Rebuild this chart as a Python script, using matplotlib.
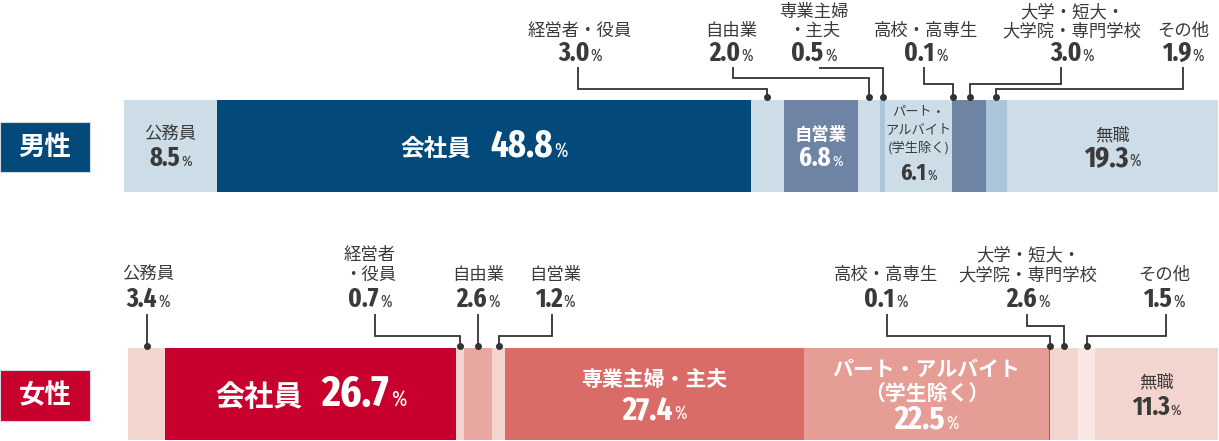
import matplotlib
matplotlib.use('Agg')
import matplotlib.pyplot as plt
from matplotlib import font_manager as fm, transforms
from matplotlib.offsetbox import TextArea, HPacker, AnnotationBbox
from matplotlib.patches import Rectangle
import os

# ---------------- data ----------------
group_labels = ['男性', '女性']

categories_male = ['公務員', '会社員', '経営者・役員', '自営業', '自由業', '専業主婦・主夫',
                   'パート・アルバイト（学生除く）', '高校・高専生', '大学・短大・大学院・専門学校',
                   'その他', '無職']
values_male = [8.5, 48.8, 3.0, 6.8, 2.0, 0.5, 6.1, 0.1, 3.0, 1.9, 19.3]

categories_female = ['公務員', '会社員', '経営者・役員', '自由業', '自営業', '専業主婦・主夫',
                     'パート・アルバイト（学生除く）', '高校・高専生', '大学・短大・大学院・専門学校',
                     'その他', '無職']
values_female = [3.4, 26.7, 0.7, 2.6, 1.2, 27.4, 22.5, 0.1, 2.6, 1.5, 11.3]

# ---------------- styles ----------------
M_LIGHT, M_NAVY, M_MID, M_PALE = '#cddde8', '#034a7b', '#6f83a5', '#abc6d9'
colors_male = [M_LIGHT, M_NAVY, M_LIGHT, M_MID, M_LIGHT, M_PALE, M_LIGHT, M_MID, M_MID, M_PALE, M_LIGHT]
F_LIGHT, F_RED, F_MID, F_SALMON, F_PART, F_LINE, F_PALE = ('#f3d5cf', '#c8002d', '#e8a8a0', '#da6c67',
                                                         '#e59d96', '#d94a4a', '#f9e7e4')
colors_female = [F_LIGHT, F_RED, F_LIGHT, F_MID, F_LIGHT, F_SALMON, F_PART, F_LINE, F_LIGHT, F_PALE, F_LIGHT]
DARK = '#3a3a3a'
WHITE = '#ffffff'

CJK = 'Noto Sans CJK JP'
plt.rcParams['font.family'] = [CJK, 'DejaVu Sans']


def pick_condensed(bold):
    """Pick the narrowest available sans font file for the numbers."""
    prefs = ['extracondensed', 'semicondensed', 'condensed', 'narrow']
    best, best_rank = None, 99
    for f in fm.fontManager.ttflist:
        base = os.path.basename(f.fname).lower().replace('-', '').replace('_', '')
        is_bold = (f.weight in ('bold', 700) or (isinstance(f.weight, int) and f.weight >= 600)
                   or base.endswith('bold.ttf') or base.endswith('bold.otf'))
        if bold != is_bold:
            continue
        if 'italic' in base or 'oblique' in base or 'mono' in base or 'serif' in base:
            continue
        if 'semibold' in base or 'extrabold' in base or 'black' in base or 'light' in base \
                or 'thin' in base or 'medium' in base:
            continue
        if not bold and 'bold' in base:
            continue
        rank = None
        for k, p in enumerate(prefs):
            if p in base:
                rank = k
                if p == 'condensed' and 'extracondensed' in base:
                    rank = 0
                if p == 'condensed' and 'semicondensed' in base:
                    rank = 1
                break
        if rank is None:
            continue
        if 'noto' in base and 'cjk' not in base:
            pass
        elif 'liberation' in base:
            rank += 0.5
        else:
            rank += 1
        if rank < best_rank:
            best, best_rank = f.fname, rank
    return best


_nb = pick_condensed(True)
_nr = pick_condensed(False)
NUM_BOLD = dict(fname=_nb) if _nb else dict(family='Liberation Sans', weight='bold')
NUM_REG = dict(fname=_nr) if _nr else dict(family='Liberation Sans')

W_PX, H_PX = 1219, 441
fig = plt.figure(figsize=(W_PX / 100, H_PX / 100), dpi=100)

# bar boxes in pixels (left, top, right, bottom)
bar_boxes = {'男性': (124, 100, 1218, 192), '女性': (128, 348, 1218, 440)}
tag_boxes = {'男性': (0, 122, 90, 172), '女性': (0, 370, 90, 421)}
tag_colors = {'男性': M_NAVY, '女性': F_RED}


def fy(py):
    return 1 - py / H_PX


def make_axes(box):
    l, t, r, b = box
    ax = fig.add_axes([l / W_PX, 1 - b / H_PX, (r - l) / W_PX, (b - t) / H_PX])
    ax.set_xlim(0, 100)
    ax.set_ylim(0, 1)
    ax.axis('off')
    return ax


def px2data(ax, px):
    return ax.transData.inverted().transform((px, 0))[0]


def num_box(value, size, pct, color, prefix=None, psize=None):
    fb = fm.FontProperties(size=size, **NUM_BOLD)
    fr = fm.FontProperties(size=pct, **NUM_REG)
    core = HPacker(children=[
        TextArea(f'{value:.1f}', textprops=dict(fontproperties=fb, color=color)),
        TextArea('%', textprops=dict(fontproperties=fr, color=color))],
        align='baseline', pad=0, sep=1)
    if prefix is None:
        return core
    return HPacker(children=[
        TextArea(prefix, textprops=dict(family=[CJK], fontsize=psize, color=color, fontweight='bold')), core],
        align='baseline', pad=0, sep=14)


def place(ax, box, x, py):
    tr = transforms.blended_transform_factory(ax.transData, fig.transFigure)
    ab = AnnotationBbox(box, (x, fy(py)), xycoords=tr, frameon=False, box_alignment=(0.5, 0.5),
                        pad=0, annotation_clip=False)
    ax.add_artist(ab)


def text(ax, x, py, s, size, color, weight='normal'):
    tr = transforms.blended_transform_factory(ax.transData, fig.transFigure)
    ax.text(x, fy(py), s, transform=tr, ha='center', va='center', fontsize=size, color=color,
            fontweight=weight, family=[CJK, 'DejaVu Sans'], clip_on=False)


def leader(ax, seg_x, text_px, y_start, y_elbow, y_dot):
    tr = transforms.blended_transform_factory(ax.transData, fig.transFigure)
    if text_px is None:
        xs, ys = [seg_x, seg_x], [y_start, y_dot]
    else:
        tx = px2data(ax, text_px)
        xs, ys = [tx, tx, seg_x, seg_x], [y_start, y_elbow, y_elbow, y_dot]
    ax.plot(xs, [fy(v) for v in ys], transform=tr, color='#333333', lw=1.3, clip_on=False,
            solid_joinstyle='miter', solid_capstyle='butt')
    ax.plot([seg_x], [fy(y_dot)], 'o', ms=4, color='#333333', transform=tr, clip_on=False)


# label layouts (pixel positions)
outside = {
    '男性': dict(rows=(12, 31), val=53, start=67, dot=97, items={
        '経営者・役員': dict(lines=['経営者・役員'], x=580, lx=578, elbow=89),
        '自由業': dict(lines=['自由業'], x=731, lx=733, elbow=78),
        '専業主婦・主夫': dict(lines=['専業主婦', '・主夫'], x=814, lx=819, elbow=68),
        '高校・高専生': dict(lines=['高校・高専生'], x=926, lx=924, elbow=84),
        '大学・短大・大学院・専門学校': dict(lines=['大学・短大・', '大学院・専門学校'], x=1072, lx=1061, elbow=84),
        'その他': dict(lines=['その他'], x=1183, lx=1183, elbow=89),
    }),
    '女性': dict(rows=(255, 275), val=299, start=314, dot=346, items={
        '公務員': dict(lines=['公務員'], x=148, lx=None, elbow=None),
        '経営者・役員': dict(lines=['経営者', '・役員'], x=370, lx=375, elbow=336),
        '自由業': dict(lines=['自由業'], x=478, lx=None, elbow=None),
        '自営業': dict(lines=['自営業'], x=555, lx=552, elbow=336),
        '高校・高専生': dict(lines=['高校・高専生'], x=886, lx=887, elbow=336),
        '大学・短大・大学院・専門学校': dict(lines=['大学・短大・', '大学院・専門学校'], x=1028, lx=1027, elbow=326),
        'その他': dict(lines=['その他'], x=1164, lx=1166, elbow=336),
    }),
}
OUT_NUM, OUT_PCT = 19.5, 12

inside = {
    '男性': {
        '公務員': dict(lines=[('公務員', 135)], val=158, color=DARK, ns=12.5, nw='normal', vs=19, ps=11),
        '会社員': dict(combo=146, color=WHITE, ns=17, vs=27, ps=14),
        '自営業': dict(lines=[('自営業', 135)], val=158, color=WHITE, ns=12.5, nw='bold', vs=19, ps=11),
        'パート・アルバイト（学生除く）': dict(lines=[('パート・', 112), ('アルバイト', 130), ('(学生除く)', 148)],
                                 val=173, color=DARK, ns=9.5, nw='normal', vs=17, ps=10),
        '無職': dict(lines=[('無職', 135)], val=158, color=DARK, ns=12.5, nw='normal', vs=21, ps=12),
    },
    '女性': {
        '会社員': dict(combo=395, color=WHITE, ns=21, vs=32, ps=16),
        '専業主婦・主夫': dict(lines=[('専業主婦・主夫', 380)], val=410, color=WHITE, ns=15, nw='bold', vs=24, ps=13),
        'パート・アルバイト（学生除く）': dict(lines=[('パート・アルバイト', 369), ('（学生除く）', 393)], val=420,
                                 color=WHITE, ns=15, nw='bold', vs=24, ps=13),
        '無職': dict(lines=[('無職', 382)], val=407, color=DARK, ns=12.5, nw='normal', vs=19, ps=11),
    },
}

data = {'男性': (categories_male, values_male, colors_male),
        '女性': (categories_female, values_female, colors_female)}

for g in group_labels:
    cats, vals, cols = data[g]
    ax = make_axes(bar_boxes[g])
    lefts = [sum(vals[:i]) for i in range(len(vals))]
    ax.barh(0.5, vals, left=lefts, height=1, color=cols, linewidth=0)
    centers = [l + v / 2 for l, v in zip(lefts, vals)]

    # group tag
    l, t, r, b = tag_boxes[g]
    fig.add_artist(Rectangle((l / W_PX, 1 - b / H_PX), (r - l) / W_PX, (b - t) / H_PX,
                             transform=fig.transFigure, facecolor=tag_colors[g],
                             edgecolor='#d0d8e0', linewidth=0.8))
    fig.text((l + r) / 2 / W_PX, fy((t + b) / 2), g, ha='center', va='center', color='white',
             fontsize=19, fontweight='bold', family=[CJK])

    # inside labels
    for cat, spec in inside[g].items():
        i = cats.index(cat)
        x = centers[i]
        if 'combo' in spec:
            place(ax, num_box(vals[i], spec['vs'], spec['ps'], spec['color'], prefix=cat, psize=spec['ns']),
                  x, spec['combo'])
        else:
            for s, py in spec['lines']:
                text(ax, x, py, s, spec['ns'], spec['color'], spec['nw'])
            place(ax, num_box(vals[i], spec['vs'], spec['ps'], spec['color']), x, spec['val'])

    # outside labels with leaders
    o = outside[g]
    for cat, spec in o['items'].items():
        i = cats.index(cat)
        tx = px2data(ax, spec['x'])
        rows = o['rows'][-len(spec['lines']):]
        for s, py in zip(spec['lines'], rows):
            text(ax, tx, py, s, 12.5, DARK)
        place(ax, num_box(vals[i], OUT_NUM, OUT_PCT, DARK), tx, o['val'])
        start = o['start']
        if cat == '専業主婦・主夫' and g == '男性':
            start = spec['elbow']
        leader(ax, centers[i], spec['lx'], start, spec['elbow'], o['dot'])

fig.savefig('out.png', dpi=100)
